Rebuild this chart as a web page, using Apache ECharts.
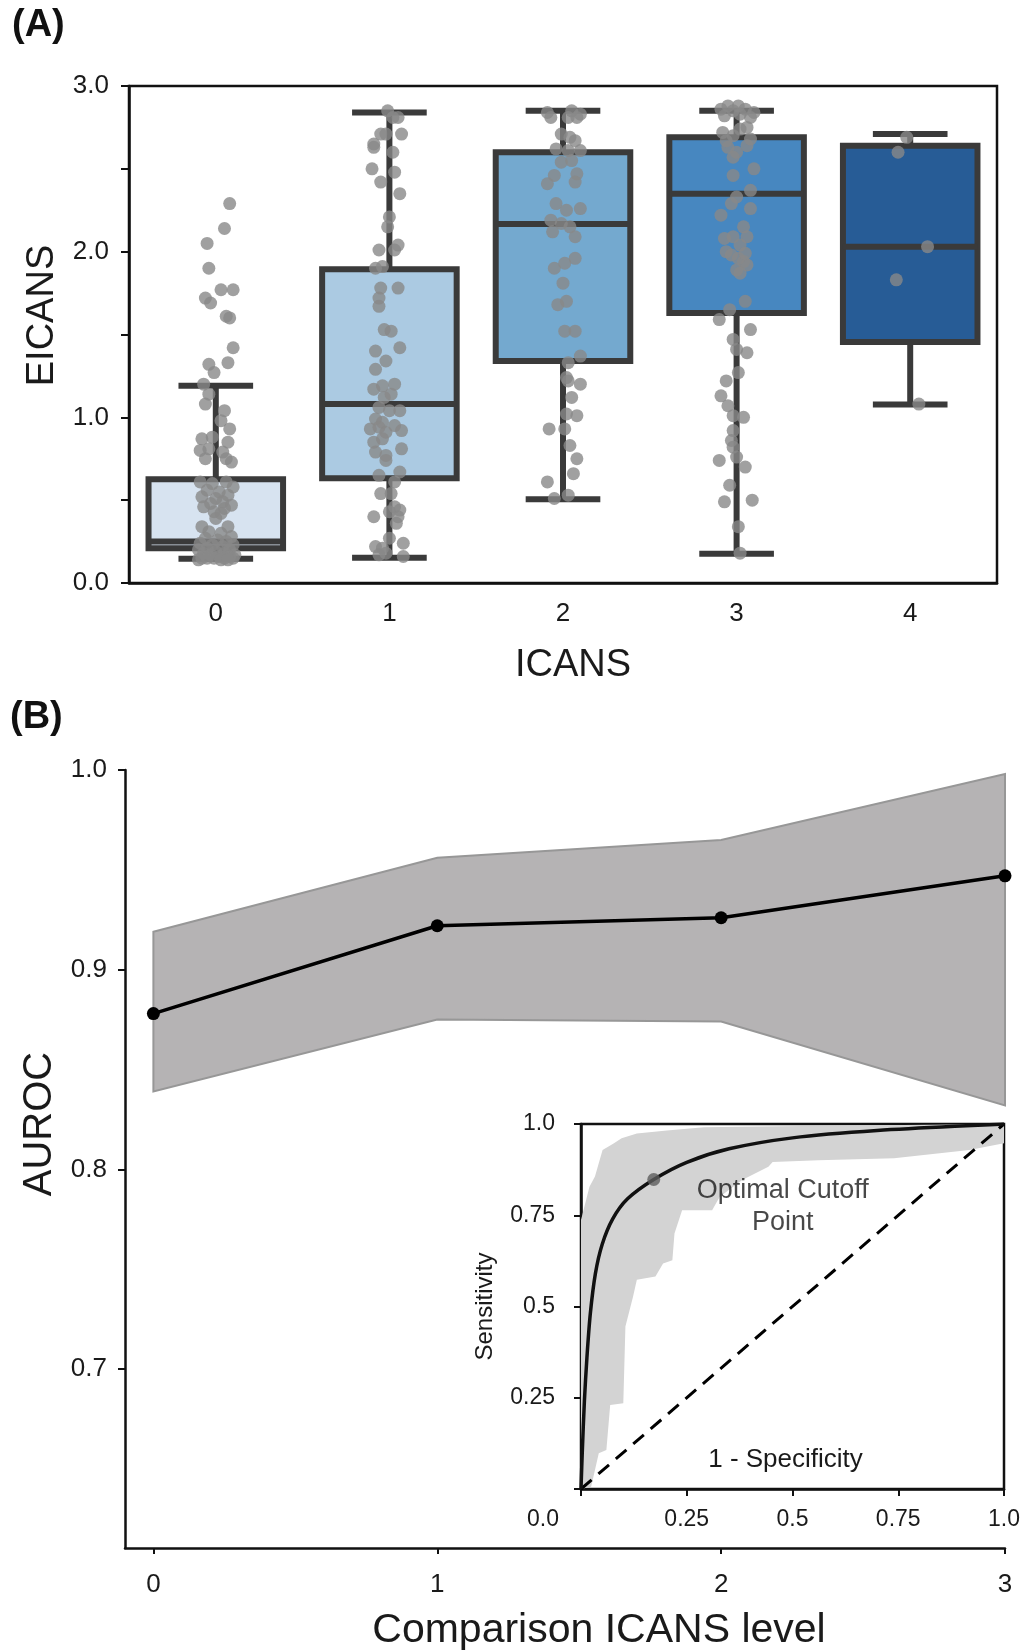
<!DOCTYPE html>
<html>
<head>
<meta charset="utf-8">
<script src="https://cdn.jsdelivr.net/npm/echarts@6/dist/echarts.min.js"></script>
<style>
  html, body { margin: 0; padding: 0; background: #fff; }
  #chart { width: 1030px; height: 1652px; }
</style>
</head>
<body>
<div id="chart"></div>
<script>
// ---- panel A: EICANS by ICANS grade ----
const icansLevels = ['0', '1', '2', '3', '4']
const whiskerLow = [0.146, 0.152, 0.505, 0.177, 1.077]
const quartile1 = [0.21, 0.632, 1.34, 1.63, 1.455]
const medians = [0.25, 1.08, 2.167, 2.35, 2.03]
const quartile3 = [0.626, 1.894, 2.6, 2.69, 2.64]
const whiskerHigh = [1.19, 2.84, 2.85, 2.85, 2.71]
const boxColors = ['#d7e3f0', '#abcae2', '#74a9cf', '#4787c0', '#275c96']

// strip points: [offset from category centre, EICANS]
const points0 = [
  [0.08, 2.29], [0.05, 2.14], [-0.05, 2.05], [-0.04, 1.90], [0.03, 1.77], [0.10, 1.77], [-0.06, 1.72], [-0.03, 1.69],
  [0.06, 1.61], [0.08, 1.60], [0.10, 1.42], [0.07, 1.33], [-0.04, 1.32], [-0.01, 1.27], [-0.07, 1.20], [-0.04, 1.14],
  [-0.06, 1.08], [0.05, 1.04], [0.03, 0.98], [0.08, 0.93], [-0.08, 0.87], [-0.02, 0.88], [0.07, 0.85], [-0.09, 0.80],
  [-0.04, 0.81], [0.04, 0.79], [0.09, 0.73], [0.06, 0.75], [-0.06, 0.75], [-0.09, 0.61], [-0.02, 0.60], [0.06, 0.61],
  [0.10, 0.58], [-0.05, 0.56], [0.02, 0.55], [0.07, 0.53], [-0.08, 0.52], [0.00, 0.51], [0.04, 0.49], [-0.03, 0.48],
  [0.09, 0.47], [-0.07, 0.46], [0.05, 0.45], [-0.01, 0.43], [0.03, 0.42], [0.00, 0.39], [0.07, 0.34], [-0.08, 0.34],
  [-0.04, 0.31], [0.03, 0.30], [0.09, 0.28], [-0.06, 0.27], [0.01, 0.26], [0.06, 0.25], [-0.09, 0.24], [-0.02, 0.23],
  [0.10, 0.23], [0.04, 0.22], [-0.05, 0.21], [0.08, 0.20], [-0.10, 0.20], [0.00, 0.19], [0.05, 0.18], [-0.07, 0.18],
  [0.11, 0.17], [-0.03, 0.17], [0.02, 0.16], [0.08, 0.16], [-0.08, 0.15], [-0.01, 0.15], [0.05, 0.15], [0.10, 0.15],
  [-0.05, 0.15], [0.03, 0.14], [-0.10, 0.14], [0.07, 0.14]
]
const points1 = [
  [-0.01, 2.85], [0.05, 2.81], [0.02, 2.81], [-0.05, 2.71], [-0.02, 2.71], [0.07, 2.71], [-0.09, 2.65], [-0.09, 2.63],
  [0.02, 2.60], [-0.10, 2.50], [0.03, 2.48], [-0.05, 2.42], [0.06, 2.35], [0.00, 2.21], [-0.01, 2.15], [-0.06, 2.01],
  [0.05, 2.04], [0.03, 2.01], [-0.08, 1.90], [-0.04, 1.91], [-0.05, 1.78], [0.05, 1.78], [-0.06, 1.72], [-0.06, 1.67],
  [-0.03, 1.53], [0.01, 1.52], [0.06, 1.42], [-0.08, 1.40], [-0.02, 1.34], [-0.08, 1.29], [-0.09, 1.17], [-0.04, 1.19],
  [0.03, 1.20], [-0.03, 1.12], [0.01, 1.14], [-0.06, 1.06], [0.00, 1.04], [0.06, 1.04], [-0.08, 0.99], [-0.04, 0.97],
  [0.03, 0.95], [-0.11, 0.93], [-0.06, 0.94], [0.07, 0.92], [-0.02, 0.91], [-0.09, 0.85], [-0.04, 0.87], [-0.08, 0.79],
  [-0.02, 0.77], [0.07, 0.81], [-0.02, 0.74], [-0.06, 0.65], [0.06, 0.67], [0.03, 0.61], [-0.05, 0.54], [0.01, 0.54],
  [0.03, 0.46], [0.06, 0.44], [0.00, 0.43], [-0.09, 0.40], [0.04, 0.36], [0.05, 0.40], [0.00, 0.27], [-0.08, 0.22],
  [-0.04, 0.21], [0.08, 0.24], [-0.02, 0.18], [0.08, 0.16], [-0.06, 0.17]
]
const points2 = [
  [-0.09, 2.84], [-0.07, 2.81], [0.05, 2.85], [0.10, 2.83], [0.03, 2.81], [0.08, 2.81], [-0.01, 2.71], [0.04, 2.69],
  [0.07, 2.67], [-0.04, 2.62], [0.03, 2.61], [0.10, 2.61], [-0.01, 2.54], [0.05, 2.55], [0.08, 2.47], [-0.05, 2.46],
  [-0.09, 2.41], [0.07, 2.42], [-0.04, 2.29], [0.02, 2.25], [0.10, 2.26], [-0.07, 2.19], [-0.01, 2.17], [0.04, 2.15],
  [-0.06, 2.12], [0.07, 2.09], [-0.05, 1.90], [0.01, 1.93], [0.07, 1.96], [0.00, 1.81], [-0.03, 1.68], [0.02, 1.70],
  [0.01, 1.52], [0.07, 1.52], [0.10, 1.37], [0.03, 1.33], [0.02, 1.24], [0.03, 1.22], [0.10, 1.20], [0.05, 1.12],
  [0.02, 1.02], [0.08, 1.01], [-0.08, 0.93], [0.01, 0.93], [0.04, 0.83], [0.08, 0.75], [0.06, 0.66], [-0.09, 0.61],
  [0.03, 0.53], [-0.05, 0.51]
]
const points3 = [
  [-0.09, 2.86], [-0.05, 2.88], [0.01, 2.88], [0.05, 2.86], [0.10, 2.84], [-0.07, 2.82], [0.02, 2.83], [0.08, 2.81],
  [-0.02, 2.85], [-0.08, 2.72], [-0.02, 2.70], [0.02, 2.74], [0.06, 2.75], [-0.05, 2.63], [0.00, 2.60], [0.06, 2.64],
  [-0.02, 2.57], [0.08, 2.68], [-0.06, 2.67], [0.10, 2.50], [-0.02, 2.46], [0.08, 2.37], [0.00, 2.33], [-0.03, 2.29],
  [-0.09, 2.22], [0.08, 2.26], [0.04, 2.15], [-0.07, 2.08], [-0.02, 2.09], [0.06, 2.09], [0.02, 2.04], [-0.06, 2.00],
  [0.04, 1.94], [0.00, 1.89], [0.06, 1.92], [0.02, 1.87], [0.05, 1.70], [-0.04, 1.65], [0.01, 1.96], [-0.03, 1.98],
  [0.05, 1.99], [-0.10, 1.59], [0.08, 1.53], [-0.02, 1.47], [0.00, 1.41], [0.06, 1.39], [0.01, 1.27], [-0.06, 1.22],
  [-0.09, 1.13], [-0.05, 1.07], [-0.02, 1.01], [0.04, 1.00], [-0.02, 0.92], [-0.03, 0.86], [-0.02, 0.82], [-0.10, 0.74],
  [0.00, 0.76], [0.05, 0.70], [-0.04, 0.59], [-0.07, 0.49], [0.09, 0.50], [0.01, 0.34], [0.02, 0.18]
]
const points4 = [[-0.02, 2.69], [-0.07, 2.60], [0.10, 2.03], [-0.08, 1.83], [0.05, 1.08]]

// ---- panel B: AUROC by comparison level ----
const comparisonLevels = [0, 1, 2, 3]
const aurocMean = [0.878, 0.922, 0.926, 0.947]
const aurocUpper = [0.919, 0.956, 0.965, 0.998]
const aurocLower = [0.839, 0.875, 0.874, 0.832]
const aurocTicks = [0.7, 0.8, 0.9, 1.0]

// ---- inset: ROC curve ----
const rocMean = [
  [0, 0], [0.003, 0.1], [0.008, 0.24], [0.014, 0.36], [0.022, 0.48], [0.034, 0.59], [0.05, 0.67],
  [0.075, 0.74], [0.11, 0.795], [0.172, 0.848], [0.25, 0.895], [0.35, 0.932], [0.5, 0.962], [0.7, 0.982], [1, 1]
]
const rocBandUpper = [
  [0, 0.737], [0.02, 0.828], [0.033, 0.856], [0.051, 0.929], [0.078, 0.947], [0.096, 0.961],
  [0.132, 0.974], [0.203, 0.982], [0.291, 0.991], [0.47, 0.994], [1, 1]
]
const rocBandLower = [
  [1, 0.947], [0.918, 0.929], [0.74, 0.906], [0.561, 0.901], [0.453, 0.896], [0.443, 0.883],
  [0.382, 0.847], [0.328, 0.801], [0.31, 0.764], [0.239, 0.764], [0.221, 0.7], [0.216, 0.627],
  [0.194, 0.618], [0.176, 0.582], [0.132, 0.573], [0.123, 0.527], [0.105, 0.445], [0.1, 0.235],
  [0.069, 0.23], [0.06, 0.107], [0.042, 0.098], [0.024, 0.006], [0, 0]
]
const chanceLine = [[0, 0], [1, 1]]
const optimalCutoff = [0.172, 0.848]

const font = 'Liberation Sans, Arial, sans-serif'
const ink = '#1a1a1a'
const edge = '#3a3a3a'

const boxData = icansLevels.map((c, i) => [i, whiskerLow[i], quartile1[i], medians[i], quartile3[i], whiskerHigh[i]])
const stripData = [points0, points1, points2, points3, points4]
  .map((pts, i) => pts.map(p => [i + p[0], p[1]]))
  .flat()

function renderBox(params, api) {
  const i = api.value(0)
  const lo = api.coord([i, api.value(1)])
  const q1 = api.coord([i, api.value(2)])
  const md = api.coord([i, api.value(3)])
  const q3 = api.coord([i, api.value(4)])
  const hi = api.coord([i, api.value(5)])
  const band = api.size([1, 0])[0]
  const bw = band * 0.775
  const cw = band * 0.43
  const x = lo[0]
  const st = { stroke: edge, lineWidth: 6 }
  return {
    type: 'group',
    children: [
      { type: 'line', shape: { x1: x, y1: q1[1], x2: x, y2: lo[1] }, style: st },
      { type: 'line', shape: { x1: x, y1: q3[1], x2: x, y2: hi[1] }, style: st },
      { type: 'line', shape: { x1: x - cw / 2, y1: lo[1], x2: x + cw / 2, y2: lo[1] }, style: st },
      { type: 'line', shape: { x1: x - cw / 2, y1: hi[1], x2: x + cw / 2, y2: hi[1] }, style: st },
      { type: 'rect', shape: { x: x - bw / 2, y: q3[1], width: bw, height: q1[1] - q3[1] },
        style: { fill: boxColors[i], stroke: edge, lineWidth: 6 } },
      { type: 'line', shape: { x1: x - bw / 2, y1: md[1], x2: x + bw / 2, y2: md[1] }, style: st }
    ]
  }
}

function bandRenderer(outline, style) {
  return function (params, api) {
    if (params.dataIndex !== 0) return null
    return { type: 'polygon', shape: { points: outline.map(p => api.coord(p)) }, style: style }
  }
}

const aurocOutline = comparisonLevels.map((x, i) => [x, aurocUpper[i]])
  .concat(comparisonLevels.map((x, i) => [x, aurocLower[i]]).reverse())
const rocOutline = rocBandUpper.concat(rocBandLower)

const axisLineStyle = { color: '#111', width: 2.5 }
const tickStyle = { color: '#111', width: 2 }

let myChart = echarts.init(document.getElementById('chart'))
myChart.setOption({
  animation: false,
  backgroundColor: '#fff',
  textStyle: { fontFamily: font },
  title: [
    { text: '(A)', left: 7, top: 2, textStyle: { fontSize: 38, fontWeight: 'bold', color: '#111', fontFamily: font } },
    { text: '(B)', left: 5, top: 694, textStyle: { fontSize: 38, fontWeight: 'bold', color: '#111', fontFamily: font } }
  ],
  grid: [
    { left: 129, top: 86, width: 868, height: 497, show: true, borderColor: '#111', borderWidth: 2.5, backgroundColor: '#fff' },
    { left: 125, top: 770, width: 880, height: 783 },
    { left: 581, top: 1124, width: 423, height: 365, show: true, borderColor: '#111', borderWidth: 2.5, backgroundColor: '#fff' }
  ],
  xAxis: [
    {
      type: 'category', gridIndex: 0, data: icansLevels, boundaryGap: true,
      axisLine: { lineStyle: axisLineStyle },
      axisTick: { alignWithLabel: true, length: 9, lineStyle: tickStyle },
      axisLabel: { fontSize: 26, color: ink, margin: 18 },
      name: 'ICANS', nameLocation: 'middle', nameGap: 64,
      nameTextStyle: { fontSize: 38, color: ink, padding: [0, 0, 0, 20] }
    },
    { type: 'value', gridIndex: 0, min: -0.5, max: 4.5, show: false },
    {
      type: 'value', gridIndex: 1, min: -0.1, max: 3,
      splitLine: { show: false },
      axisLine: { show: true, onZero: false, lineStyle: axisLineStyle },
      axisTick: { show: true, length: 6, lineStyle: tickStyle, customValues: comparisonLevels },
      axisLabel: { fontSize: 26, color: ink, margin: 24, customValues: comparisonLevels },
      name: 'Comparison ICANS level', nameLocation: 'middle', nameGap: 62,
      nameTextStyle: { fontSize: 41, color: ink, padding: [0, 0, 0, 68] }
    },
    {
      type: 'value', gridIndex: 2, min: 0, max: 1, interval: 0.25,
      splitLine: { show: false },
      axisLine: { show: true, onZero: false, lineStyle: axisLineStyle },
      axisTick: { show: true, length: 7, lineStyle: tickStyle },
      axisLabel: {
        fontSize: 23, color: ink, margin: 19,
        formatter: v => v === 0 ? '{z|0.0}' : (v === 1 ? '1.0' : String(v)),
        rich: { z: { fontSize: 23, color: ink, fontFamily: font, padding: [0, 76, 0, 0] } }
      },
      name: '1 - Specificity', nameLocation: 'middle', nameGap: -42,
      nameTextStyle: { fontSize: 26, color: ink, padding: [0, 14, 0, 0] }
    }
  ],
  yAxis: [
    {
      type: 'value', gridIndex: 0, min: 0, max: 3, interval: 0.5,
      splitLine: { show: false },
      axisLine: { show: true, onZero: false, lineStyle: axisLineStyle },
      axisTick: { show: true, length: 8, lineStyle: tickStyle },
      axisLabel: { fontSize: 26, color: ink, margin: 20, formatter: v => (v % 1 === 0 ? v.toFixed(1) : '') },
      name: 'EICANS', nameLocation: 'middle', nameGap: 66,
      nameTextStyle: { fontSize: 38, color: ink, padding: [0, 0, 0, 38] }
    },
    {
      type: 'value', gridIndex: 1, min: 0.6104, max: 1,
      splitLine: { show: false },
      axisLine: { show: true, onZero: false, lineStyle: axisLineStyle },
      axisTick: { show: true, length: 7, lineStyle: tickStyle, customValues: aurocTicks },
      axisLabel: { fontSize: 26, color: ink, margin: 18, customValues: aurocTicks, formatter: v => v.toFixed(1) },
      name: 'AUROC', nameLocation: 'middle', nameGap: 62,
      nameTextStyle: { fontSize: 40, color: ink, padding: [0, 0, 0, 70] }
    },
    {
      type: 'value', gridIndex: 2, min: 0, max: 1, interval: 0.25,
      splitLine: { show: false },
      axisLine: { show: true, onZero: false, lineStyle: axisLineStyle },
      axisTick: { show: true, length: 7, lineStyle: tickStyle },
      axisLabel: { fontSize: 23, color: ink, margin: 26, formatter: v => v === 0 ? '' : (v === 1 ? '1.0' : String(v)) },
      name: 'Sensitivity', nameLocation: 'middle', nameGap: 84,
      nameTextStyle: { fontSize: 24, color: ink }
    }
  ],
  series: [
    {
      type: 'custom', xAxisIndex: 1, yAxisIndex: 0, renderItem: renderBox,
      data: boxData, encode: { x: 0, y: [1, 2, 3, 4, 5] }, z: 2
    },
    {
      type: 'scatter', xAxisIndex: 1, yAxisIndex: 0, data: stripData,
      symbolSize: 13, itemStyle: { color: '#888888' }, z: 5
    },
    {
      type: 'custom', xAxisIndex: 2, yAxisIndex: 1, data: aurocOutline, encode: { x: 0, y: 1 },
      renderItem: bandRenderer(aurocOutline, { fill: '#b5b3b4', stroke: '#979797', lineWidth: 2 }), z: 2
    },
    {
      type: 'line', xAxisIndex: 2, yAxisIndex: 1,
      data: comparisonLevels.map((x, i) => [x, aurocMean[i]]),
      symbol: 'circle', symbolSize: 13, itemStyle: { color: '#000' },
      lineStyle: { color: '#000', width: 3.5 }, z: 4
    },
    {
      type: 'custom', xAxisIndex: 3, yAxisIndex: 2, data: rocOutline, encode: { x: 0, y: 1 },
      renderItem: bandRenderer(rocOutline, { fill: '#d3d3d3' }), z: 2
    },
    {
      type: 'line', xAxisIndex: 3, yAxisIndex: 2, data: chanceLine, symbol: 'none',
      lineStyle: { color: '#000', width: 3, type: [14, 9] }, z: 3
    },
    {
      type: 'line', xAxisIndex: 3, yAxisIndex: 2, data: rocMean, symbol: 'none', smooth: 0.3,
      lineStyle: { color: '#111', width: 3.5 }, z: 4
    },
    {
      type: 'scatter', xAxisIndex: 3, yAxisIndex: 2, data: [optimalCutoff],
      symbolSize: 13, itemStyle: { color: '#5e5e5e' }, z: 5,
      label: {
        show: true, position: 'inside', offset: [129, 27], formatter: 'Optimal Cutoff\nPoint',
        fontSize: 27, color: ink, lineHeight: 32, align: 'center', fontFamily: font
      }
    }
  ]
})
</script>
</body>
</html>
